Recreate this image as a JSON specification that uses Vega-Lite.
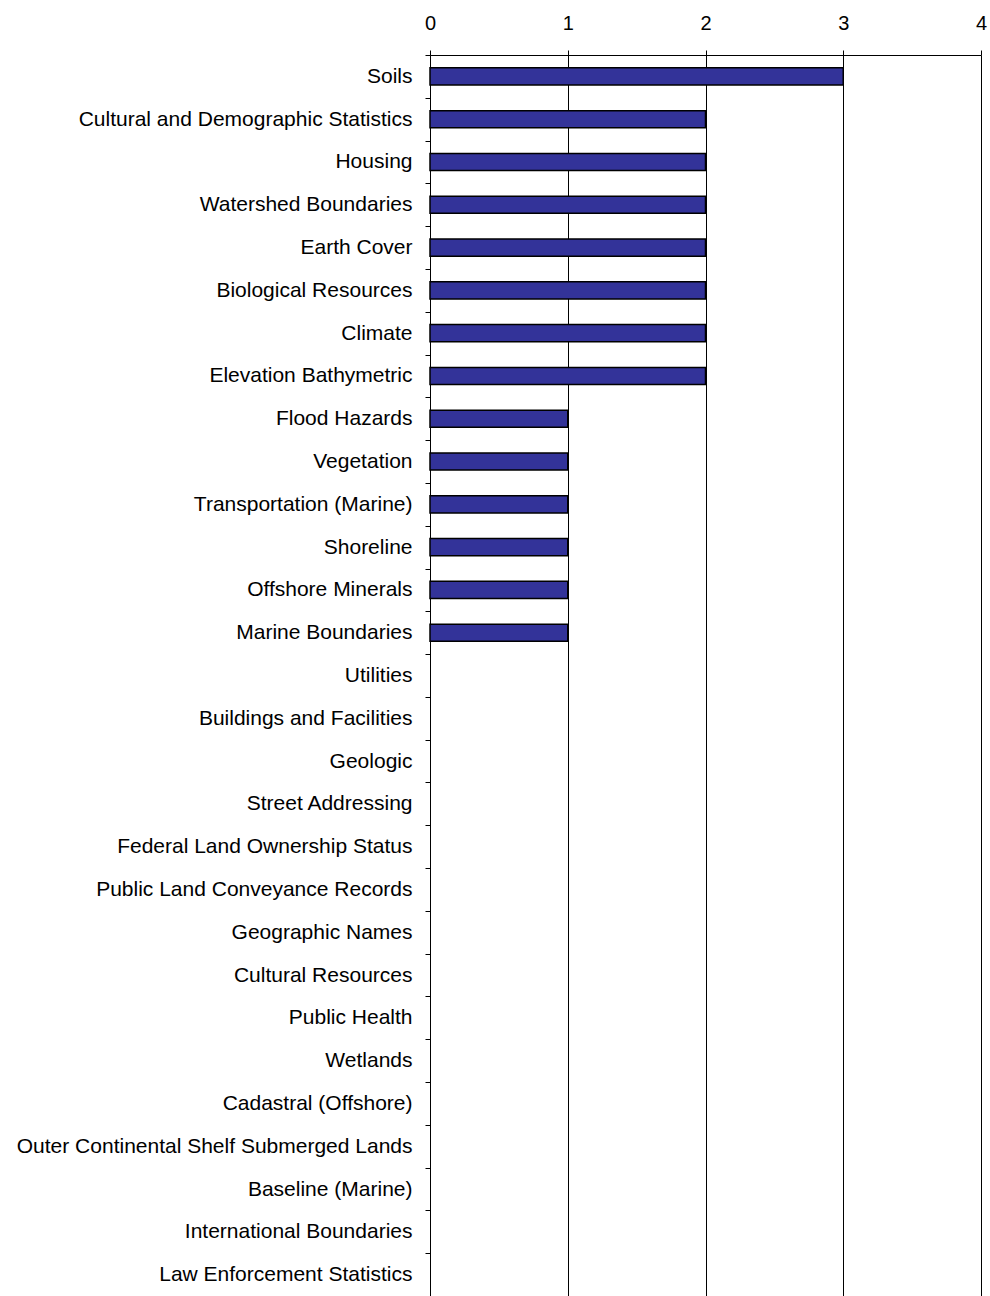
{
  "$schema": "https://vega.github.io/schema/vega-lite/v6.json",
  "width": 551,
  "height": 1241,
  "autosize": {"type": "none"},
  "padding": {"left": 430, "top": 55, "right": 9, "bottom": 0},
  "background": "white",
  "config": {"view": {"stroke": null}, "font": "Liberation Sans"},
  "data": {"values": [
    {"category": "Soils", "value": 3},
    {"category": "Cultural and Demographic Statistics", "value": 2},
    {"category": "Housing", "value": 2},
    {"category": "Watershed Boundaries", "value": 2},
    {"category": "Earth Cover", "value": 2},
    {"category": "Biological Resources", "value": 2},
    {"category": "Climate", "value": 2},
    {"category": "Elevation Bathymetric", "value": 2},
    {"category": "Flood Hazards", "value": 1},
    {"category": "Vegetation", "value": 1},
    {"category": "Transportation (Marine)", "value": 1},
    {"category": "Shoreline", "value": 1},
    {"category": "Offshore Minerals", "value": 1},
    {"category": "Marine Boundaries", "value": 1},
    {"category": "Utilities", "value": 0},
    {"category": "Buildings and Facilities", "value": 0},
    {"category": "Geologic", "value": 0},
    {"category": "Street Addressing", "value": 0},
    {"category": "Federal Land Ownership Status", "value": 0},
    {"category": "Public Land Conveyance Records", "value": 0},
    {"category": "Geographic Names", "value": 0},
    {"category": "Cultural Resources", "value": 0},
    {"category": "Public Health", "value": 0},
    {"category": "Wetlands", "value": 0},
    {"category": "Cadastral (Offshore)", "value": 0},
    {"category": "Outer Continental Shelf Submerged Lands", "value": 0},
    {"category": "Baseline (Marine)", "value": 0},
    {"category": "International Boundaries", "value": 0},
    {"category": "Law Enforcement Statistics", "value": 0}
  ]},
  "mark": {"type": "bar", "color": "#333399", "stroke": "black", "strokeWidth": 1.5, "height": {"band": 0.4}},
  "encoding": {
    "y": {
      "field": "category", "type": "nominal", "sort": null,
      "scale": {"paddingInner": 0, "paddingOuter": 0},
      "axis": {
        "title": null, "orient": "left", "domainColor": "black", "domainWidth": 1,
        "tickBand": "extent", "tickColor": "black", "tickSize": 5,
        "labelFontSize": 21, "labelColor": "black", "labelPadding": 13,
        "labelFont": "Liberation Sans", "labelLimit": 0, "grid": false
      }
    },
    "x": {
      "field": "value", "type": "quantitative",
      "scale": {"domain": [0, 4], "nice": false},
      "axis": {
        "title": null, "orient": "top", "values": [0, 1, 2, 3, 4], "format": "d",
        "domainColor": "black", "tickColor": "black", "tickSize": 5,
        "grid": true, "gridColor": "black", "gridWidth": 1, "gridOpacity": 1,
        "labelFontSize": 20, "labelColor": "black", "labelPadding": 17,
        "labelFlush": false, "labelFont": "Liberation Sans"
      }
    },
    "strokeOpacity": {"condition": {"test": "datum.value === 0", "value": 0}, "value": 1},
    "fillOpacity": {"condition": {"test": "datum.value === 0", "value": 0}, "value": 1}
  }
}
